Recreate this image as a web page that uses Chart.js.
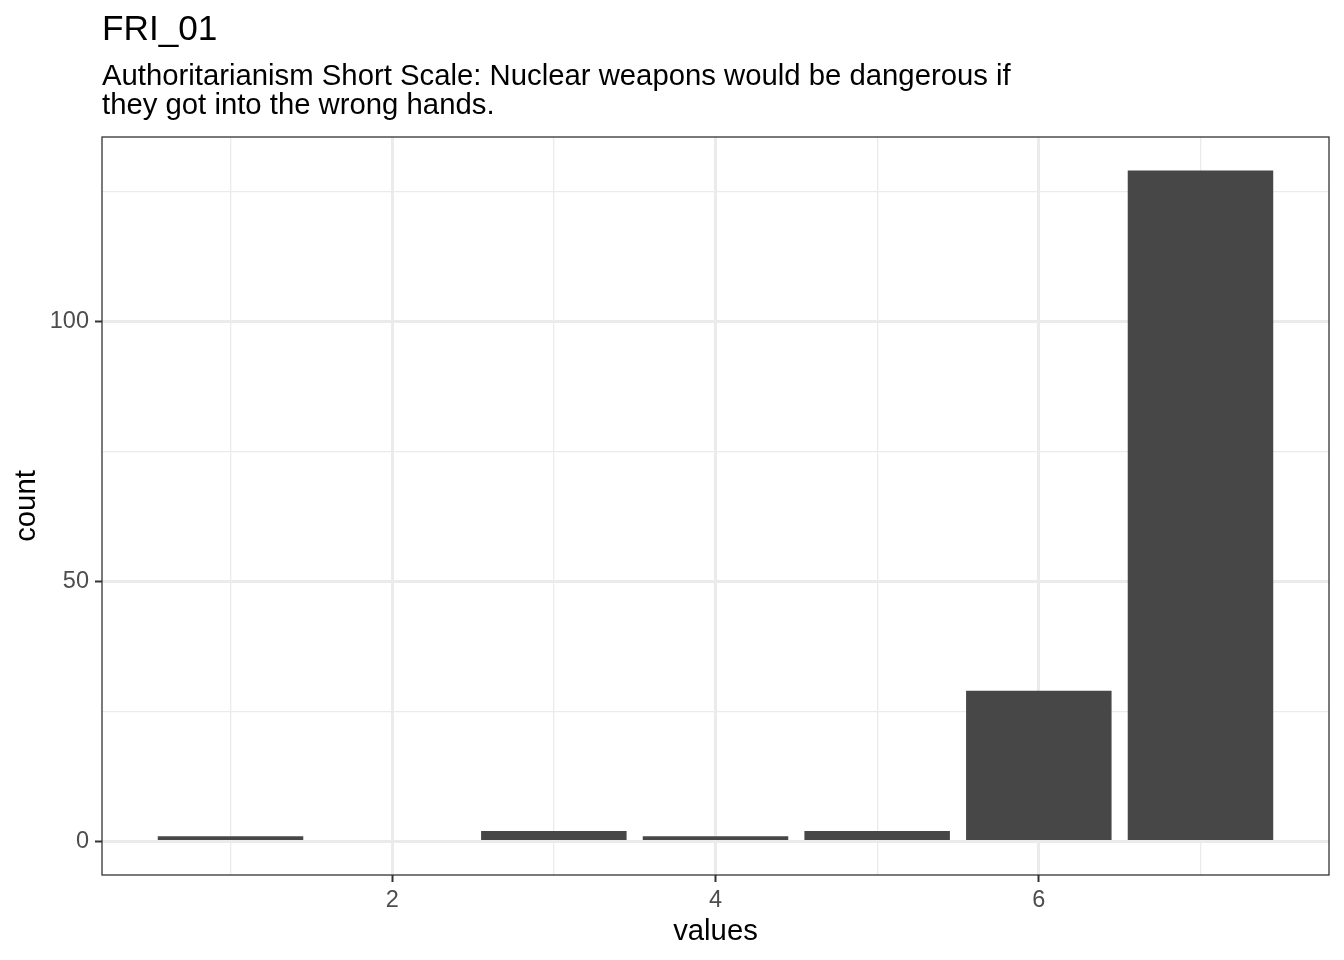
<!DOCTYPE html>
<html>
<head>
<meta charset="utf-8">
<script src="https://cdn.jsdelivr.net/npm/chart.js@4.4.1/dist/chart.umd.min.js"></script>
<style>
  html, body { margin: 0; padding: 0; background: #ffffff; }
  #wrap { position: relative; width: 1344px; height: 960px; background: #ffffff; }
  #chart { position: absolute; left: 0; top: 0; }
  .txt { position: absolute; font-family: "Liberation Sans", Arial, Helvetica, sans-serif; color: #000000; white-space: pre; }
  #title { left: 102px; top: 8px; font-size: 35.2px; line-height: 40px; }
  #subtitle { left: 102px; top: 60px; font-size: 29.3px; line-height: 29px; }
</style>
</head>
<body>
<div id="wrap">
  <canvas id="chart" width="1344" height="960"></canvas>
  <div id="title" class="txt">FRI_01</div>
  <div id="subtitle" class="txt">Authoritarianism Short Scale: Nuclear weapons would be dangerous if
they got into the wrong hands.</div>
</div>
<script>
// ---- data ----
const categories = [1, 2, 3, 4, 5, 6, 7];
const counts = [1, 0, 2, 1, 2, 29, 129];
const xTickValues = [1, 2, 3, 4, 5, 6, 7];
const xTickLabels = ['', '2', '', '4', '', '6', ''];
const yTickValues = [0, 25, 50, 75, 100, 125];
const yTickLabels = ['0', '', '50', '', '100', ''];
const xAxisTitle = 'values';
const yAxisTitle = 'count';

const FONT = '"Liberation Sans", Arial, Helvetica, sans-serif';
const GRID = '#EBEBEB';
const DARK = '#333333';

const points = categories.map((c, i) => ({ x: c, y: counts[i] }));

const panelBorder = {
  id: 'panelBorder',
  afterDraw(chart) {
    const a = chart.chartArea;
    const ctx = chart.ctx;
    ctx.save();
    ctx.strokeStyle = DARK;
    ctx.lineWidth = 1.3;
    ctx.strokeRect(a.left, a.top, a.right - a.left, a.bottom - a.top);
    ctx.restore();
  }
};

function isMajor(list, labels, v) {
  const i = list.indexOf(v);
  return i >= 0 && labels[i] !== '';
}

new Chart(document.getElementById('chart'), {
  type: 'bar',
  data: {
    datasets: [{
      data: points,
      backgroundColor: '#474747',
      borderWidth: 0,
      barPercentage: 0.9,
      categoryPercentage: 1.0
    }]
  },
  options: {
    responsive: false,
    animation: false,
    devicePixelRatio: 1,
    layout: { padding: { top: 137, right: 15, left: 0, bottom: 0 } },
    plugins: { legend: { display: false }, tooltip: { enabled: false }, title: { display: false } },
    scales: {
      x: {
        type: 'linear',
        min: 0.205,
        max: 7.795,
        offset: false,
        afterBuildTicks(scale) { scale.ticks = xTickValues.map(v => ({ value: v })); },
        afterFit(scale) { scale.height = 85; },
        border: { display: false },
        grid: {
          offset: false,
          color: GRID,
          lineWidth: (c) => isMajor(xTickValues, xTickLabels, c.tick.value) ? 3 : 1.3,
          drawTicks: true,
          tickLength: 7,
          tickWidth: 2,
          tickColor: (c) => isMajor(xTickValues, xTickLabels, c.tick.value) ? DARK : 'rgba(0,0,0,0)'
        },
        ticks: {
          autoSkip: false,
          maxRotation: 0,
          padding: 4,
          color: '#4D4D4D',
          font: { family: FONT, size: 23.5 },
          callback: (v) => { const i = xTickValues.indexOf(v); return i >= 0 ? xTickLabels[i] : ''; }
        },
        title: {
          display: true,
          text: xAxisTitle,
          color: '#000000',
          font: { family: FONT, size: 29.3, lineHeight: 1.2 },
          padding: { top: 0, bottom: 11 }
        }
      },
      y: {
        type: 'linear',
        min: -6.45,
        max: 135.45,
        afterBuildTicks(scale) { scale.ticks = yTickValues.map(v => ({ value: v })); },
        afterFit(scale) { scale.width = 102; },
        border: { display: false },
        grid: {
          color: GRID,
          lineWidth: (c) => isMajor(yTickValues, yTickLabels, c.tick.value) ? 3 : 1.3,
          drawTicks: true,
          tickLength: 7,
          tickWidth: 2,
          tickColor: (c) => isMajor(yTickValues, yTickLabels, c.tick.value) ? DARK : 'rgba(0,0,0,0)'
        },
        ticks: {
          autoSkip: false,
          padding: 6,
          color: '#4D4D4D',
          font: { family: FONT, size: 23.5 },
          callback: (v) => { const i = yTickValues.indexOf(v); return i >= 0 ? yTickLabels[i] : ''; }
        },
        title: {
          display: true,
          text: yAxisTitle,
          color: '#000000',
          font: { family: FONT, size: 29.3, lineHeight: 1.2 },
          padding: { top: 9, bottom: 0 }
        }
      }
    }
  },
  plugins: [panelBorder]
});
</script>
</body>
</html>
